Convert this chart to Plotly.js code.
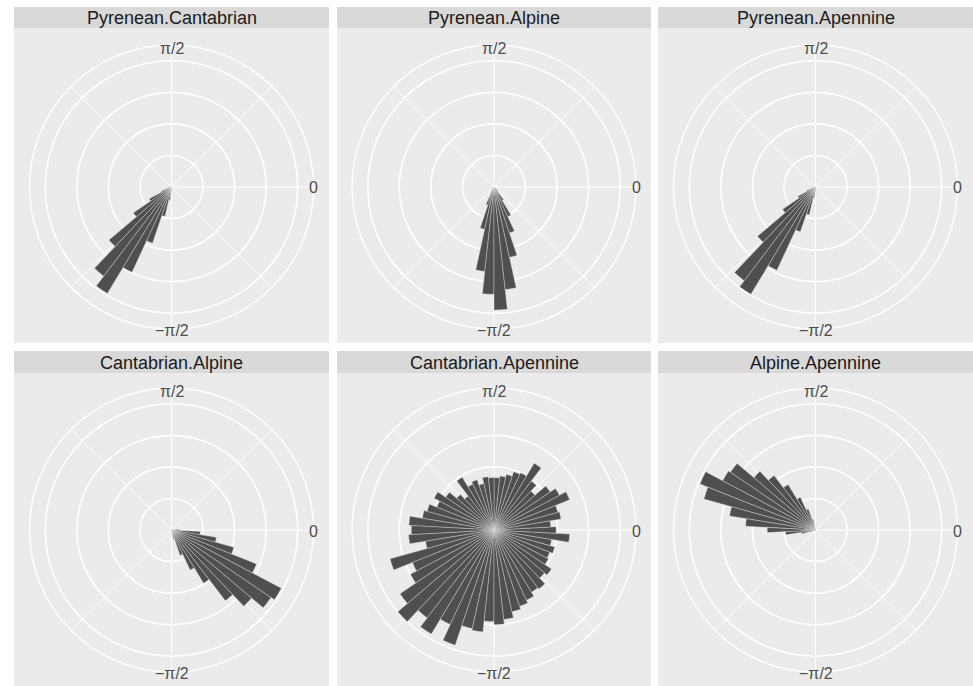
<!DOCTYPE html>
<html>
<head>
<meta charset="utf-8">
<script src="https://cdn.plot.ly/plotly-3.0.1.min.js"></script>
<style>html,body{margin:0;padding:0;background:#fff;}#chart{width:973px;height:686px;}</style>
</head>
<body>
<div id="chart"></div>
<script>
// ---------- DATA ----------
// facet names
const panelNames = ["Pyrenean.Cantabrian", "Pyrenean.Alpine", "Pyrenean.Apennine",
                    "Cantabrian.Alpine", "Cantabrian.Apennine", "Alpine.Apennine"];
// bin centres (degrees, angle measured counter-clockwise from 0)
const binCenters = [-173.79,-167.59,-161.38,-155.17,-148.97,-142.76,-136.55,-130.34,-124.14,-117.93,
  -111.72,-105.52,-99.31,-93.10,-86.90,-80.69,-74.48,-68.28,-62.07,-55.86,
  -49.66,-43.45,-37.24,-31.03,-24.83,-18.62,-12.41,-6.21,0,6.21,
  12.41,18.62,24.83,31.03,37.24,43.45,49.66,55.86,62.07,68.28,
  74.48,80.69,86.90,93.10,99.31,105.52,111.72,117.93,124.14,130.34,
  136.55,142.76,148.97,155.17,161.38,167.59,173.79,180];
// angular tick labels
const thetaTickVals = [0, 90, 270];
const thetaTickText = ["0", "π/2", "−π/2"];

const pyreneanCantabrian = [0,0,0.15,0.35,0.8,1.46,2.6,3.55,3.94,2.98,
  1.88,0.95,0.42,0.12,0,0,0,0,0,0, 0,0,0,0,0,0,0,0,0,0,
  0,0,0,0,0,0,0,0,0,0, 0,0,0,0,0,0,0,0,0,0, 0,0,0,0,0,0,0,0];
const pyreneanAlpine = [0,0,0,0,0,0,0,0,0.07,0.22,
  0.6,1.37,2.69,3.4,3.9,3.27,2.28,1.54,1.04,0.5, 0.18,0,0,0,0,0,0,0,0,0,
  0,0,0,0,0,0,0,0,0,0, 0,0,0,0,0,0,0,0,0,0, 0,0,0,0,0,0,0,0];
const pyreneanApennine = [0,0,0.1,0.3,0.63,1.26,2.41,3.73,3.97,2.91,
  1.5,0.9,0.35,0.1,0,0,0,0,0,0, 0,0,0,0,0,0,0,0,0,0,
  0,0,0,0,0,0,0,0,0,0, 0,0,0,0,0,0,0,0,0,0, 0,0,0,0,0,0,0,0];
const cantabrianAlpine = [0,0,0,0,0,0,0,0,0,0,
  0,0,0,0,0,0,0.3,0.85,1.4,1.97, 2.82,3.33,3.81,3.94,2.9,2.05,1.44,0.91,0.25,0,
  0,0,0,0,0,0,0,0,0,0, 0,0,0,0,0,0,0,0,0,0, 0,0,0,0,0,0,0,0];
const cantabrianApennine = [2.71,2.2,3.42,2.78,3.0,3.6,4.0,3.5,3.85,3.3,
  3.85,3.2,3.25,2.9,3.0,2.85,2.65,2.55,2.45,2.3, 2.35,2.1,2.2,1.95,1.9,2.0,1.85,2.4,1.97,1.8,
  2.15,2.1,2.58,2.35,2.15,1.7,1.95,2.47,2.0,1.95, 1.8,1.72,1.66,1.66,1.7,1.5,1.68,1.6,1.95,1.35,
  1.55,1.85,2.15,1.95,2.2,2.3,2.7,2.62];
const alpineApennine = [0.95,0.45,0.15,0,0,0,0,0,0,0,
  0,0,0,0,0,0,0,0,0,0, 0,0,0,0,0,0,0,0,0,0,
  0,0,0,0,0,0,0,0,0,0, 0,0,0,0,0,0.35,0.7,1.14,1.68,2.17,
  2.56,3.26,3.33,3.94,3.67,2.76,2.22,1.53];

const panelValues = [pyreneanCantabrian, pyreneanAlpine, pyreneanApennine,
                     cantabrianAlpine, cantabrianApennine, alpineApennine];

// ---------- LAYOUT GEOMETRY (pixels) ----------
const W = 973, H = 686;
const cols = [[14, 329], [337, 651], [658, 973]];
const rows = [{strip: 7, top: 28, bottom: 343, cy: 187}, {strip: 351, top: 373, bottom: 686, cy: 530}];
const R = 142;
const binWidth = 360 / 58;

const px = x => x / W;
const py = y => 1 - y / H;

const data = [];
const layout = {
  width: W, height: H,
  margin: {l: 0, r: 0, t: 0, b: 0},
  paper_bgcolor: '#ffffff',
  showlegend: false,
  shapes: [], annotations: [],
  font: {family: 'Liberation Sans, Arial, Helvetica, sans-serif'}
};

panelNames.forEach((name, i) => {
  const c = cols[i % 3], r = rows[Math.floor(i / 3)];
  const cx = (c[0] + c[1]) / 2, cy = r.cy;
  const key = i === 0 ? 'polar' : 'polar' + (i + 1);
  // panel background + strip
  layout.shapes.push({type: 'rect', xref: 'paper', yref: 'paper', layer: 'below',
    x0: px(c[0]), x1: px(c[1]), y0: py(r.bottom), y1: py(r.top),
    fillcolor: '#EBEBEB', line: {width: 0}});
  layout.shapes.push({type: 'rect', xref: 'paper', yref: 'paper', layer: 'below',
    x0: px(c[0]), x1: px(c[1]), y0: py(r.top), y1: py(r.strip),
    fillcolor: '#D9D9D9', line: {width: 0}});
  layout.annotations.push({xref: 'paper', yref: 'paper', x: px(cx), y: py((r.strip + r.top) / 2 + 0.5),
    text: name, showarrow: false, xanchor: 'center', yanchor: 'middle',
    font: {size: 18, color: '#1A1A1A'}});
  layout[key] = {
    domain: {x: [px(cx - R), px(cx + R)], y: [py(cy + R), py(cy - R)]},
    bgcolor: 'rgba(0,0,0,0)',
    radialaxis: {range: [0, 4.5], tickvals: [1, 2, 3, 4], showticklabels: false, ticks: '',
      showline: false, gridcolor: '#FFFFFF', gridwidth: 1.6},
    angularaxis: {rotation: 0, direction: 'counterclockwise',
      tickvals: [0, 45, 90, 135, 225, 270, 315], showticklabels: false, ticks: '',
      gridcolor: '#FFFFFF', gridwidth: 1, showline: true, linecolor: '#FFFFFF', linewidth: 1.4}
  };
  data.push({type: 'barpolar', subplot: key, theta: binCenters, r: panelValues[i],
    width: binWidth, marker: {color: '#4F4F4F', line: {color: '#DDDDDD', width: 0.4}},
    hoverinfo: 'skip'});
  // angular labels on the outer ring
  const dirs = [[R, 1], [0, -R + 3], [0, R + 1]];
  thetaTickText.forEach((t, j) => {
    layout.annotations.push({xref: 'paper', yref: 'paper',
      x: px(cx + dirs[j][0]), y: py(cy + dirs[j][1]), text: t, showarrow: false,
      xanchor: 'center', yanchor: 'middle', font: {size: 16, color: '#4D4D4D'}});
  });
});

Plotly.newPlot('chart', data, layout, {staticPlot: true});
</script>
</body>
</html>
